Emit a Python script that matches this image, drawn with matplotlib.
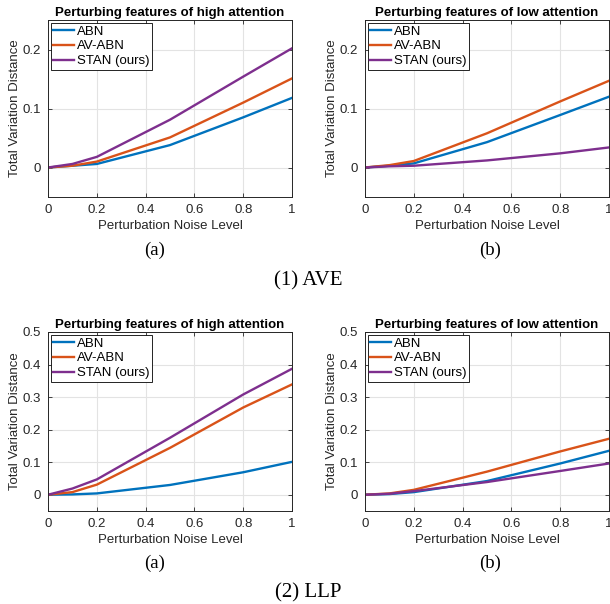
import matplotlib
matplotlib.use('Agg')
import matplotlib.pyplot as plt

plt.rcParams['font.family'] = ['Liberation Sans', 'DejaVu Sans']

# noise levels on the x axis
noise = [0, 0.1, 0.2, 0.5, 0.8, 1.0]
methods = ['ABN', 'AV-ABN', 'STAN (ours)']
colors = ['#0072BD', '#D95319', '#7E2F8E']

# (1) AVE
ave_high = {
    'ABN': [0, 0.003, 0.006, 0.038, 0.085, 0.118],
    'AV-ABN': [0, 0.003, 0.010, 0.051, 0.110, 0.151],
    'STAN (ours)': [0, 0.006, 0.018, 0.081, 0.154, 0.202],
}
ave_low = {
    'ABN': [0, 0.003, 0.007, 0.043, 0.089, 0.120],
    'AV-ABN': [0, 0.004, 0.011, 0.058, 0.112, 0.147],
    'STAN (ours)': [0, 0.002, 0.003, 0.012, 0.024, 0.034],
}
# (2) LLP
llp_high = {
    'ABN': [0, 0.001, 0.004, 0.030, 0.069, 0.101],
    'AV-ABN': [0, 0.008, 0.031, 0.144, 0.268, 0.339],
    'STAN (ours)': [0, 0.019, 0.047, 0.175, 0.308, 0.387],
}
llp_low = {
    'ABN': [0, 0.002, 0.008, 0.042, 0.096, 0.135],
    'AV-ABN': [0, 0.004, 0.015, 0.071, 0.133, 0.172],
    'STAN (ours)': [0, 0.003, 0.011, 0.039, 0.073, 0.096],
}

W, H = 610, 604
fig = plt.figure(figsize=(W / 100, H / 100), dpi=100)


def add_ax(left, top, right, bottom):
    return fig.add_axes([left / W, 1 - bottom / H, (right - left) / W, (bottom - top) / H])


dark = '#262626'


def draw(ax, data, title, ylim, yticks):
    for m, c in zip(methods, colors):
        ax.plot(noise, data[m], color=c, lw=1.7, label=m)
    ax.set_xlim(0, 1)
    ax.set_ylim(*ylim)
    ax.set_xticks([0, 0.2, 0.4, 0.6, 0.8, 1])
    ax.set_xticklabels(['0', '0.2', '0.4', '0.6', '0.8', '1'])
    ax.set_yticks(yticks)
    ax.set_yticklabels(['0' if t == 0 else ('%g' % t) for t in yticks])
    ax.grid(True, color='#e3e3e3', lw=0.8)
    ax.set_axisbelow(True)
    ax.tick_params(direction='in', length=3, width=0.6, colors=dark, labelsize=9.5,
                   top=True, right=True, pad=5)
    for s in ax.spines.values():
        s.set_color(dark)
        s.set_linewidth(0.7)
    ax.set_title(title, fontsize=9.5, fontweight='bold', pad=3)
    ax.set_xlabel('Perturbation Noise Level', fontsize=9.5, color=dark, labelpad=3)
    ax.set_ylabel('Total Variation Distance', fontsize=9.5, color=dark, labelpad=1)
    leg = ax.legend(loc='upper left', fontsize=9.5, handlelength=1.6, handletextpad=0.2,
                    borderaxespad=0.2, borderpad=0.2, labelspacing=0.2, fancybox=False,
                    framealpha=1)
    leg.get_frame().set_edgecolor('black')
    leg.get_frame().set_linewidth(0.6)


ax1 = add_ax(48, 20, 292, 197)
draw(ax1, ave_high, 'Perturbing features of high attention', (-0.05, 0.25), [0, 0.1, 0.2])
ax2 = add_ax(365, 20, 609, 197)
draw(ax2, ave_low, 'Perturbing features of low attention', (-0.05, 0.25), [0, 0.1, 0.2])
ax3 = add_ax(48, 332, 292, 511)
draw(ax3, llp_high, 'Perturbing features of high attention', (-0.05, 0.5), [0, 0.1, 0.2, 0.3, 0.4, 0.5])
ax4 = add_ax(365, 332, 609, 511)
draw(ax4, llp_low, 'Perturbing features of low attention', (-0.05, 0.5), [0, 0.1, 0.2, 0.3, 0.4, 0.5])

serif = dict(family='Liberation Serif', ha='center', va='center')
fig.text(155 / W, 1 - 250 / H, '(a)', fontsize=13.5, **serif)
fig.text(490 / W, 1 - 250 / H, '(b)', fontsize=13.5, **serif)
fig.text(308 / W, 1 - 281 / H, '(1) AVE', fontsize=15, **serif)
fig.text(155 / W, 1 - 563 / H, '(a)', fontsize=13.5, **serif)
fig.text(490 / W, 1 - 563 / H, '(b)', fontsize=13.5, **serif)
fig.text(308 / W, 1 - 593 / H, '(2) LLP', fontsize=15, **serif)

fig.savefig('out.png', dpi=100)
